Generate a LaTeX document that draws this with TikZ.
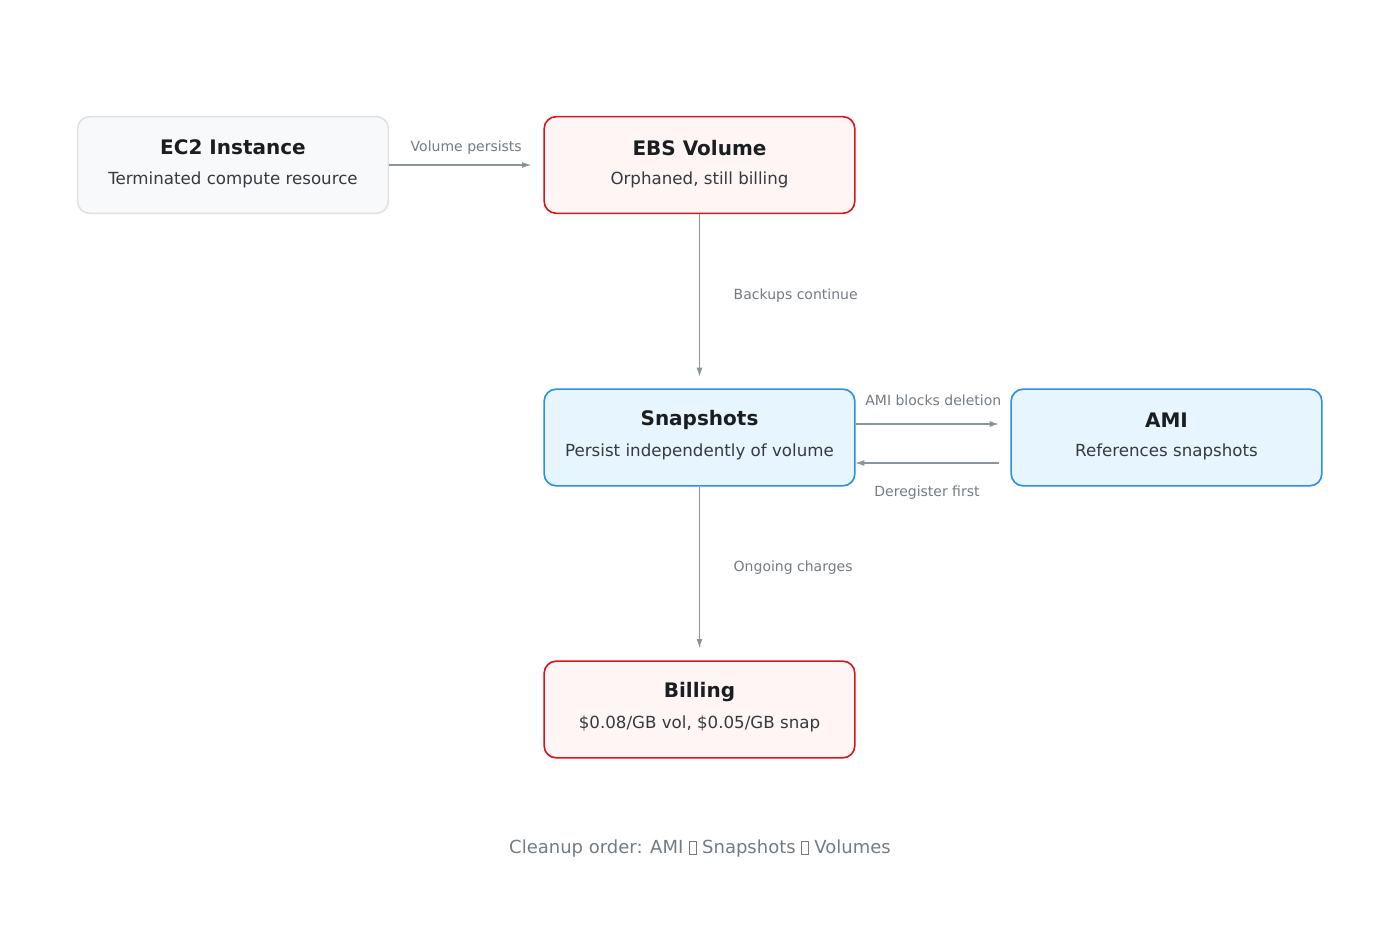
\documentclass[tikz,border=0pt]{standalone}
\usepackage{fontspec}
\setmainfont{DejaVu Sans}
\usetikzlibrary{arrows.meta,positioning}
\definecolor{greyline}{HTML}{DEE2E6}
\definecolor{greyfill}{HTML}{F8F9FA}
\definecolor{redline}{HTML}{D9151B}
\definecolor{redfill}{HTML}{FFF5F5}
\definecolor{blueline}{HTML}{2B8EE8}
\definecolor{bluefill}{HTML}{E7F5FE}
\definecolor{arrowgrey}{HTML}{8A949C}
\definecolor{labelgrey}{HTML}{737B83}
\definecolor{titleink}{HTML}{1B1E21}
\definecolor{subink}{HTML}{343A40}
\tikzset{
card/.style={draw, line width=1.2pt, rounded corners=9pt, minimum width=233pt, minimum height=72.5pt},
plain card/.style={card, draw=greyline, fill=greyfill},
alert card/.style={card, draw=redline, fill=redfill},
info card/.style={card, draw=blueline, fill=bluefill},
title text/.style={font=\fontsize{15}{18}\selectfont\bfseries, text=titleink},
sub text/.style={font=\fontsize{12.5}{15}\selectfont, text=subink},
edge label/.style={font=\fontsize{10.5}{13}\selectfont, text=labelgrey},
flow/.style={draw=arrowgrey, line width=0.9pt, -{Latex[length=7pt,width=4.5pt]}, shorten >=9pt}
}
\newcommand{\tofubox}{\raisebox{-0.5pt}{\tikz\draw[line width=0.5pt] (0,0) rectangle (5pt,10pt);}}
\begin{document}
\begin{tikzpicture}[x=0.75pt,y=-0.75pt]
\useasboundingbox (0,0) rectangle (1400,934);
% cards
\node[plain card] (ec2) at (233,165) {};
\node[alert card] (ebs) at (699.5,165) {};
\node[info card] (snap) at (699.5,437.5) {};
\node[info card] (ami) at (1166.5,437.5) {};
\node[alert card] (bill) at (699.5,709.5) {};
\foreach \c/\t/\s in {ec2/EC2 Instance/Terminated compute resource,
  ebs/EBS Volume/{Orphaned, still billing},
  snap/Snapshots/Persist independently of volume,
  ami/AMI/References snapshots,
  bill/Billing/{\$0.08/GB vol, \$0.05/GB snap}}{
  \node[title text] (\c-t) at ([yshift=13pt]\c.center) {\t};
  \node[sub text] (\c-s) at ([yshift=-11pt]\c.center) {\s};
}
% connectors
\coordinate (snap-top) at (699.5,389);
\coordinate (ami-in) at (1011,424);
\coordinate (ami-out) at (999,463);
\coordinate (snap-r2) at (855,463);
\draw[flow] (ec2.east) -- (ebs.west) node[midway, above=4pt, edge label] {Volume persists};
\draw[flow] (ebs.south) -- (snap-top);
\node[edge label, anchor=west] (lbl-backup) at (729,296) {Backups continue};
\draw[flow] (snap.east |- ami-in) -- (ami-in) node[pos=0.5, above=10pt, edge label] {AMI blocks deletion};
\draw[flow, shorten >=0pt] (ami-out) -- (snap-r2) node[pos=0.5, below=13pt, edge label] {Deregister first};
\draw[flow] (snap.south) -- (bill.north);
\node[edge label, anchor=west] (lbl-charge) at (729,568) {Ongoing charges};
% footer
\node[font=\fontsize{13.5}{16}\selectfont, text=labelgrey] (footer) at (700,849) {Cleanup order: AMI \tofubox{} Snapshots \tofubox{} Volumes};
\end{tikzpicture}
\end{document}
